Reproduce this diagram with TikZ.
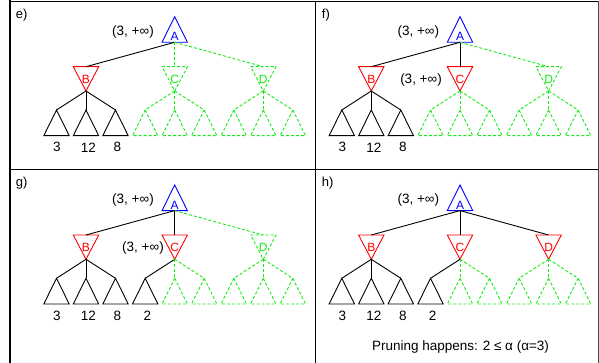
\documentclass[tikz,border=0pt]{standalone}
\usepackage{fontspec}
\setmainfont{Liberation Sans}
\definecolor{lgreen}{RGB}{20,235,20}
\begin{document}
\begin{tikzpicture}[x=1pt,y=-1pt,line width=0.9pt,
  gd/.style={draw=lgreen,dash pattern=on 3pt off 2pt},
  sl/.style={draw=black},
  lbl/.style={inner sep=0pt,font=\fontsize{12}{14}\selectfont},
  vlbl/.style={inner sep=0pt,font=\fontsize{13.5}{16}\selectfont},
  plbl/.style={inner sep=0pt,anchor=west,font=\fontsize{13}{15}\selectfont},
  pics/maxtri/.style n args={3}{code={
    \draw[#1] (-12.7,25.6) -- (0,0) -- (12.7,25.6) -- cycle;
    \node[lbl,text=#2] (-l) at (0,20) {#3};
    \coordinate (-top) at (0,0);
    \coordinate (-bot) at (0,25.6);
  }},
  pics/mintri/.style n args={3}{code={
    \draw[#1] (-12.7,0) -- (12.7,0) -- (0,24.3) -- cycle;
    \node[lbl,text=#2] (-l) at (0,12.3) {#3};
    \coordinate (-top) at (0,0);
    \coordinate (-bot) at (0,24.3);
  }},
  pics/leaf/.style={code={
    \draw[#1] (0,0) -- (12.7,25.7) -- (-12.7,25.7) -- cycle;
    \coordinate (-top) at (0,0);
  }}
]
\useasboundingbox (0,0) rectangle (599,363);
% frame
\draw[line width=2.5pt] (10,0) -- (10,363);
\draw[line width=1pt] (10,1.5) -- (598.3,1.5);
\draw[line width=1pt] (10,169.5) -- (598.3,169.5);
\draw[line width=1pt] (315.5,1.5) -- (315.5,363);
\draw[line width=1pt,draw=black!70] (598.3,1.5) -- (598.3,363);

% ---------------- panel e
\node[plbl] (elab) at (15.5,15.5) {e)};
\pic (eA) at (174.7,16.7) {maxtri={draw=blue}{blue}{A}};
\node[vlbl] (ev1) at (133,31.7) {(3, +∞)};
\pic (eB) at (86,66.7) {mintri={draw=red}{red}{B}};
\pic (eC) at (174.7,66.7) {mintri={gd}{lgreen}{C}};
\pic (eD) at (263.3,66.7) {mintri={gd}{lgreen}{D}};
\draw (eA-bot) -- (eB-top);
\draw[gd] (eA-bot) -- (eC-top);
\draw[gd] (eA-bot) -- (eD-top);
\foreach \i/\x in {1/56.5,2/86,3/115.5} {\pic (eB\i) at (\x,110) {leaf=sl}; \draw (eB-bot) -- (eB\i-top);}
\foreach \i/\x in {1/145.2,2/174.7,3/204.2} {\pic (eC\i) at (\x,110) {leaf=gd}; \draw[gd] (eC-bot) -- (eC\i-top);}
\foreach \i/\x in {1/233.8,2/263.3,3/292.8} {\pic (eD\i) at (\x,110) {leaf=gd}; \draw[gd] (eD-bot) -- (eD\i-top);}
\node[vlbl] (en1) at (57,147.3) {3};
\node[vlbl] (en2) at (88.5,147.3) {12};
\node[vlbl] (en3) at (117.5,147.3) {8};

% ---------------- panel f
\begin{scope}[shift={(285.3,0)}]
\node[plbl] (flab) at (36.2,15.5) {f)};
\pic (fA) at (174.7,16.7) {maxtri={draw=blue}{blue}{A}};
\node[vlbl] (fv1) at (133,31.7) {(3, +∞)};
\node[vlbl] (fv2) at (135.7,79.7) {(3, +∞)};
\pic (fB) at (86,66.7) {mintri={draw=red}{red}{B}};
\pic (fC) at (174.7,66.7) {mintri={draw=red}{red}{C}};
\pic (fD) at (263.3,66.7) {mintri={gd}{lgreen}{D}};
\draw (fA-bot) -- (fB-top);
\draw (fA-bot) -- (fC-top);
\draw[gd] (fA-bot) -- (fD-top);
\foreach \i/\x in {1/56.5,2/86,3/115.5} {\pic (fB\i) at (\x,110) {leaf=sl}; \draw (fB-bot) -- (fB\i-top);}
\foreach \i/\x in {1/145.2,2/174.7,3/204.2} {\pic (fC\i) at (\x,110) {leaf=gd}; \draw[gd] (fC-bot) -- (fC\i-top);}
\foreach \i/\x in {1/233.8,2/263.3,3/292.8} {\pic (fD\i) at (\x,110) {leaf=gd}; \draw[gd] (fD-bot) -- (fD\i-top);}
\node[vlbl] (fn1) at (57,147.3) {3};
\node[vlbl] (fn2) at (88.5,147.3) {12};
\node[vlbl] (fn3) at (117.5,147.3) {8};
\end{scope}

% ---------------- panel g
\begin{scope}[shift={(0,168.3)}]
\node[plbl] (glab) at (15.5,14.5) {g)};
\pic (gA) at (174.7,16.7) {maxtri={draw=blue}{blue}{A}};
\node[vlbl] (gv1) at (133,31.7) {(3, +∞)};
\node[vlbl] (gv2) at (143,79.4) {(3, +∞)};
\pic (gB) at (86,66.7) {mintri={draw=red}{red}{B}};
\pic (gC) at (174.7,66.7) {mintri={draw=red}{red}{C}};
\pic (gD) at (263.3,66.7) {mintri={gd}{lgreen}{D}};
\draw (gA-bot) -- (gB-top);
\draw (gA-bot) -- (gC-top);
\draw[gd] (gA-bot) -- (gD-top);
\foreach \i/\x in {1/56.5,2/86,3/115.5} {\pic (gB\i) at (\x,110) {leaf=sl}; \draw (gB-bot) -- (gB\i-top);}
\pic (gC1) at (145.2,110) {leaf=sl}; \draw (gC-bot) -- (gC1-top);
\foreach \i/\x in {2/174.7,3/204.2} {\pic (gC\i) at (\x,110) {leaf=gd}; \draw[gd] (gC-bot) -- (gC\i-top);}
\foreach \i/\x in {1/233.8,2/263.3,3/292.8} {\pic (gD\i) at (\x,110) {leaf=gd}; \draw[gd] (gD-bot) -- (gD\i-top);}
\node[vlbl] (gn1) at (57,147.3) {3};
\node[vlbl] (gn2) at (88.5,147.3) {12};
\node[vlbl] (gn3) at (117.5,147.3) {8};
\node[vlbl] (gn4) at (147.3,147.3) {2};
\end{scope}

% ---------------- panel h
\begin{scope}[shift={(285.3,168.3)}]
\node[plbl] (hlab) at (36.2,14.5) {h)};
\pic (hA) at (174.7,16.7) {maxtri={draw=blue}{blue}{A}};
\node[vlbl] (hv1) at (133,31.7) {(3, +∞)};
\pic (hB) at (86,66.7) {mintri={draw=red}{red}{B}};
\pic (hC) at (174.7,66.7) {mintri={draw=red}{red}{C}};
\pic (hD) at (263.3,66.7) {mintri={draw=red}{red}{D}};
\draw (hA-bot) -- (hB-top);
\draw (hA-bot) -- (hC-top);
\draw (hA-bot) -- (hD-top);
\foreach \i/\x in {1/56.5,2/86,3/115.5} {\pic (hB\i) at (\x,110) {leaf=sl}; \draw (hB-bot) -- (hB\i-top);}
\pic (hC1) at (145.2,110) {leaf=sl}; \draw (hC-bot) -- (hC1-top);
\foreach \i/\x in {2/174.7,3/204.2} {\pic (hC\i) at (\x,110) {leaf=gd}; \draw[gd] (hC-bot) -- (hC\i-top);}
\foreach \i/\x in {1/233.8,2/263.3,3/292.8} {\pic (hD\i) at (\x,110) {leaf=gd}; \draw[gd] (hD-bot) -- (hD\i-top);}
\node[vlbl] (hn1) at (57,147.3) {3};
\node[vlbl] (hn2) at (88.5,147.3) {12};
\node[vlbl] (hn3) at (117.5,147.3) {8};
\node[vlbl] (hn4) at (147.3,147.3) {2};
\node[vlbl] (hprune) at (175.2,178.4) {Pruning happens: 2 ≤ α (α=3)};
\end{scope}
\end{tikzpicture}
\end{document}
